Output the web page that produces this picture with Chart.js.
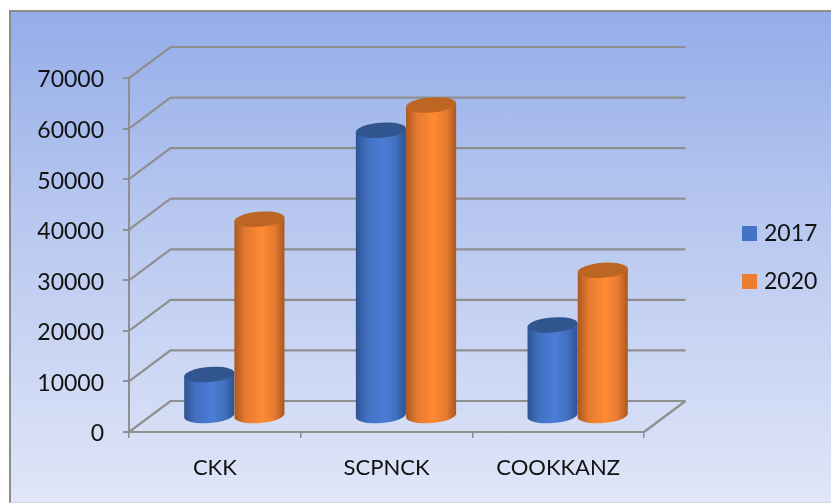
<!DOCTYPE html>
<html>
<head>
<meta charset="utf-8">
<style>
  html, body { margin: 0; padding: 0; background: #fff; overflow: hidden; }
  #frame { position: absolute; left: 9px; top: 10px; width: 830px; height: 493px; box-sizing: border-box;
           border-left: 2px solid #8c8c8c; border-top: 2px solid #8c8c8c; border-bottom: 1px solid #d5d8df;
           background: linear-gradient(180deg, #94ade9 0%, #b6c6ef 40%, #e0e6f8 100%); }
  canvas { position: absolute; left: 0; top: 0; }
</style>
<script src="https://cdn.jsdelivr.net/npm/chart.js@4"></script>
</head>
<body>
<div id="frame"></div>
<canvas id="chart" width="831" height="504"></canvas>
<script>
const categories = ['CKK', 'SCPNCK', 'COOKKANZ'];
const seriesNames = ['2017', '2020'];
const values2017 = [8300, 56600, 18100];
const values2020 = [39000, 61600, 28900];
const axisMax = 70000;
const axisStep = 10000;

// Depth of the 3D box and the look of each cylinder
const depthX = 41.5;
const depthY = -31;
const cylinderShiftX = 19.5;
const capRy = 7.5;
const capTilt = -4.5 * Math.PI / 180;
const wallColor = '#8f8f8f';
const seriesColors = ['#4472c4', '#ed7d31'];
const cylinderStyles = [
  { edge: '#2d5391', mid: '#4270c0', light: '#4a7dd6', cap: '#30558f' },
  { edge: '#a9581f', mid: '#e67a30', light: '#ff8b33', cap: '#bd6522' }
];

function drawWalls(chart) {
  const { ctx, scales: { x, y } } = chart;
  ctx.save();
  ctx.strokeStyle = wallColor;
  ctx.lineWidth = 2.2;
  ctx.lineJoin = 'miter';
  y.ticks.forEach(tick => {
    const py = y.getPixelForValue(tick.value);
    ctx.beginPath();
    ctx.moveTo(x.left, py);
    ctx.lineTo(x.left + depthX, py + depthY);
    ctx.lineTo(x.right + depthX, py + depthY);
    ctx.stroke();
  });
  ctx.beginPath();
  ctx.moveTo(x.right, y.bottom);
  ctx.lineTo(x.right + depthX, y.bottom + depthY);
  ctx.stroke();
  ctx.restore();
}

function drawCylinder(ctx, bar, style) {
  const cx = bar.x + cylinderShiftX;
  const top = bar.y + depthY / 2;
  const base = bar.base + depthY / 2;
  const rx = bar.width / 2;
  const ex = rx * Math.cos(capTilt);
  const ey = rx * Math.sin(capTilt);
  const body = ctx.createLinearGradient(cx - rx, 0, cx + rx, 0);
  body.addColorStop(0, style.edge);
  body.addColorStop(0.22, style.mid);
  body.addColorStop(0.55, style.light);
  body.addColorStop(0.8, style.mid);
  body.addColorStop(1, style.edge);
  ctx.fillStyle = body;
  ctx.beginPath();
  ctx.moveTo(cx - ex, top - ey);
  ctx.lineTo(cx - ex, base - ey);
  ctx.ellipse(cx, base, rx, capRy, capTilt, Math.PI, 0, true);
  ctx.lineTo(cx + ex, top + ey);
  ctx.closePath();
  ctx.fill();
  ctx.fillStyle = style.cap;
  ctx.beginPath();
  ctx.ellipse(cx, top, rx, capRy, capTilt, 0, Math.PI * 2);
  ctx.fill();
}

const box3d = {
  id: 'box3d',
  beforeLayout(chart) {
    // The legend column keeps a fixed width so the plot area stays put
    const legend = chart.legend;
    if (!legend._fixedFit) {
      const fit = legend.fit;
      legend.fit = function () { fit.call(this); this.width = 187; };
      legend._fixedFit = true;
    }
    // Value labels sit a little below their tick marks
    const y = chart.scales.y;
    if (!y._labelsLowered) {
      const compute = y._computeLabelItems;
      y._computeLabelItems = function (area) {
        const items = compute.call(this, area);
        items.forEach(item => { item.textOffset += 2; });
        return items;
      };
      y._labelsLowered = true;
    }
  },
  afterLayout(chart) {
    const legend = chart.legend;
    legend.left = 721.5;
    legend.right = 831;
    legend.top = 197;
    legend.bottom = 504;
  },
  beforeDatasetsDraw(chart) { drawWalls(chart); },
  beforeDatasetDraw() { return false; },
  afterDatasetsDraw(chart) {
    chart.data.datasets.forEach((ds, i) => {
      chart.getDatasetMeta(i).data.forEach(bar => drawCylinder(chart.ctx, bar, cylinderStyles[i]));
    });
  }
};

new Chart(document.getElementById('chart'), {
  type: 'bar',
  data: {
    labels: categories,
    datasets: [
      { label: seriesNames[0], data: values2017, backgroundColor: seriesColors[0], borderWidth: 0 },
      { label: seriesNames[1], data: values2020, backgroundColor: seriesColors[1], borderWidth: 0 }
    ]
  },
  options: {
    responsive: false,
    animation: false,
    layout: { autoPadding: false, padding: { left: 0, right: 0, top: 78, bottom: 0 } },
    datasets: { bar: { barPercentage: 1, categoryPercentage: 0.585 } },
    scales: {
      x: {
        afterFit(s) { s.height = 72; },
        border: { color: wallColor, width: 2 },
        grid: { drawOnChartArea: false, color: wallColor, lineWidth: 1.5, tickLength: 6 },
        ticks: { color: '#111', padding: 17, maxRotation: 0, font: { family: 'Lato', size: 22 } }
      },
      y: {
        min: 0,
        max: axisMax,
        afterFit(s) { s.width = 129; },
        border: { color: wallColor, width: 2 },
        grid: { drawOnChartArea: false, color: wallColor, lineWidth: 2, tickLength: 6 },
        ticks: {
          stepSize: axisStep,
          color: '#111',
          padding: 19,
          font: { family: 'Lato', size: 23 },
          callback: value => String(value)
        }
      }
    },
    plugins: {
      title: { display: false },
      tooltip: { enabled: false },
      legend: {
        position: 'right',
        align: 'start',
        labels: {
          usePointStyle: true,
          pointStyle: 'rect',
          boxWidth: 6,
          boxHeight: 15,
          padding: 25,
          color: '#111',
          font: { family: 'Lato', size: 23 }
        }
      }
    }
  },
  plugins: [box3d]
});
</script>
</body>
</html>
